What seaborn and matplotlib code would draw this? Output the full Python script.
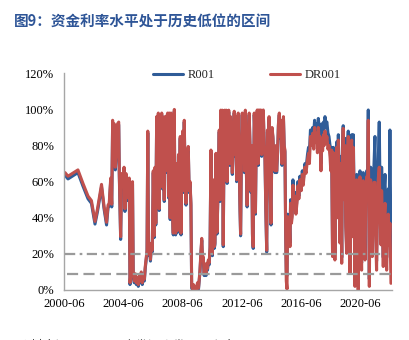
import matplotlib
matplotlib.use("Agg")
import matplotlib.pyplot as plt
import pandas as pd
import seaborn as sns
from matplotlib.lines import Line2D

# ---------------- data ----------------
years = [
    2000.57, 2000.77, 2001.44, 2001.78, 2002.12, 2002.35, 2002.59, 2002.76, 2003.03, 2003.20,
    2003.37, 2003.47, 2003.55, 2003.65, 2003.72, 2003.78, 2003.82, 2003.89, 2003.96, 2004.05,
    2004.11, 2004.19, 2004.23, 2004.32, 2004.39, 2004.46, 2004.55, 2004.61, 2004.68, 2004.75,
    2004.82, 2004.90, 2004.95, 2005.02, 2005.12, 2005.17, 2005.24, 2005.31, 2005.38, 2005.44,
    2005.51, 2005.58, 2005.65, 2005.71, 2005.78, 2005.85, 2005.92, 2005.98, 2006.05, 2006.10,
    2006.15, 2006.20, 2006.27, 2006.33, 2006.40, 2006.45, 2006.52, 2006.58, 2006.64, 2006.69,
    2006.75, 2006.80, 2006.86, 2006.92, 2006.97, 2007.04, 2007.09, 2007.14, 2007.20, 2007.26,
    2007.31, 2007.36, 2007.43, 2007.49, 2007.55, 2007.60, 2007.66, 2007.72, 2007.78, 2007.87,
    2007.94, 2007.98, 2008.03, 2008.10, 2008.17, 2008.22, 2008.27, 2008.34, 2008.39, 2008.44,
    2008.50, 2008.56, 2008.61, 2008.67, 2008.73, 2008.79, 2008.88, 2008.94, 2009.00, 2009.06,
    2009.11, 2009.18, 2009.23, 2009.30, 2009.37, 2009.43, 2009.50, 2009.57, 2009.62, 2009.67,
    2009.74, 2009.79, 2009.84, 2009.89, 2009.95, 2010.01, 2010.08, 2010.12, 2010.18, 2010.23,
    2010.29, 2010.35, 2010.41, 2010.46, 2010.51, 2010.57, 2010.63, 2010.68, 2010.75, 2010.82,
    2010.90, 2010.97, 2011.02, 2011.07, 2011.12, 2011.17, 2011.24, 2011.29, 2011.34, 2011.39,
    2011.44, 2011.50, 2011.56, 2011.61, 2011.67, 2011.73, 2011.79, 2011.85, 2011.92, 2011.98,
    2012.03, 2012.08, 2012.14, 2012.20, 2012.25, 2012.31, 2012.37, 2012.41, 2012.47, 2012.52,
    2012.57, 2012.62, 2012.67, 2012.73, 2012.79, 2012.85, 2012.92, 2012.99, 2013.06, 2013.11,
    2013.16, 2013.21, 2013.26, 2013.33, 2013.38, 2013.41, 2013.47, 2013.53, 2013.60, 2013.65,
    2013.72, 2013.77, 2013.83, 2013.89, 2013.94, 2014.00, 2014.05, 2014.11, 2014.17, 2014.22,
    2014.28, 2014.33, 2014.39, 2014.46, 2014.53, 2014.59, 2014.66, 2014.73, 2014.80, 2014.84,
    2014.91, 2014.96, 2015.02, 2015.07, 2015.13, 2015.20, 2015.25, 2015.30, 2015.35, 2015.40,
    2015.45, 2015.49, 2015.54, 2015.58, 2015.64, 2015.69, 2015.74, 2015.78, 2015.84, 2015.89,
    2015.94, 2016.00, 2016.07, 2016.14, 2016.21, 2016.27, 2016.34, 2016.41, 2016.50, 2016.57,
    2016.63, 2016.75, 2016.82, 2016.92, 2016.99, 2017.05, 2017.12, 2017.19, 2017.27, 2017.34,
    2017.40, 2017.46, 2017.54, 2017.59, 2017.65, 2017.71, 2017.76, 2017.83, 2017.88, 2017.94,
    2018.00, 2018.04, 2018.10, 2018.17, 2018.23, 2018.30, 2018.37, 2018.44, 2018.49, 2018.55,
    2018.61, 2018.66, 2018.72, 2018.77, 2018.83, 2018.89, 2018.94, 2019.00, 2019.06, 2019.11,
    2019.16, 2019.23, 2019.28, 2019.33, 2019.39, 2019.45, 2019.50, 2019.56, 2019.62, 2019.67,
    2019.73, 2019.79, 2019.84, 2019.90, 2019.94, 2020.01, 2020.07, 2020.12, 2020.18, 2020.24,
    2020.29, 2020.34, 2020.41, 2020.46, 2020.51, 2020.57, 2020.63, 2020.68, 2020.74, 2020.80,
    2020.85, 2020.91, 2020.97, 2021.02, 2021.09, 2021.13, 2021.18, 2021.23, 2021.29, 2021.35,
    2021.40, 2021.47, 2021.52, 2021.58, 2021.64, 2021.69, 2021.76, 2021.82, 2021.88, 2021.92,
    2021.98, 2022.03, 2022.09, 2022.15, 2022.20, 2022.26, 2022.31, 2022.37, 2022.43, 2022.48,
    2022.55,
]

dr001 = [
    65, 63, 66.5, 59, 52, 49.5, 38, 45, 58.5, 46.5,
    37.5, 47, 48, 62, 47.5, 94, 72, 92, 68, 77.5,
    92, 93, 64.5, 29.5, 64.5, 60, 68, 45, 64.5, 58,
    51, 62, 4, 10, 60, 8, 5, 9, 4, 7,
    3, 8, 5, 10, 4, 8, 6, 13, 18, 22,
    88, 20, 25, 17, 26, 22, 66, 30, 68, 37,
    96, 50, 98, 45, 93, 58, 98, 57, 93, 50,
    96, 66, 96, 98, 52, 98, 40, 98, 55, 31.5,
    100, 45, 31.5, 70, 33, 75, 48, 85, 31.5, 70,
    88, 55, 94, 60, 48, 75, 79.5, 55, 60, 48,
    2, 0.5, 3, 0.5, 2, 0.5, 4, 1, 6, 11,
    22, 28.6, 17, 18.5, 9, 12, 9, 14.8, 12, 16.6,
    15, 24, 77.5, 22, 20, 61, 24, 26, 75.7, 32,
    60, 88.6, 50, 99.6, 70, 99.6, 25, 80, 99.6, 66,
    99.6, 60, 85, 99.6, 70, 96, 85, 65, 83, 99,
    75, 96, 61, 90, 98, 70, 45, 31, 80, 98,
    75, 96, 66, 99.6, 70, 47, 85, 98, 75, 55,
    80, 31, 24, 98, 85, 43, 88.6, 99.7, 70, 99.7,
    85, 99.7, 75, 88.6, 99.7, 80, 75.7, 45, 22, 88.6,
    70, 96, 61, 37, 90, 85, 70, 66, 80, 66,
    77.5, 92, 98, 85, 94, 70, 85, 96, 80, 77.5,
    31.5, 5, 0.5, 40.6, 29.5, 35, 24, 48, 37, 40.6,
    58, 45, 52, 42, 48, 57.7, 50.5, 61, 55, 64,
    58, 68, 64.6, 72, 75.7, 70, 85, 80, 86.8, 78,
    90, 82, 86.8, 76, 90, 83, 85, 66, 84, 77,
    86, 80, 88, 82, 85, 78, 80, 74, 66, 77.5,
    18.5, 76, 60, 16.6, 70, 79, 40, 83, 55, 26,
    70, 14.8, 75, 89.5, 50, 80, 35, 20.3, 76, 85,
    60, 9.2, 75, 83, 29.5, 79, 45, 2, 40, 61,
    20, 0, 50, 62.7, 30, 11, 55, 60.5, 35, 16.6,
    50, 62.7, 58, 94, 2, 40, 61, 25, 18.5, 50,
    59.6, 59.6, 30, 11, 45, 61, 68, 40, 25, 55,
    35, 13, 40, 48, 25, 11, 30, 42, 25, 37,
    3.7,
]

r001 = [
    63.5, 61.5, 65, 57.5, 50.5, 48, 36.5, 43.5, 57, 45,
    36, 45.5, 46.5, 60.5, 46, 92.5, 70.5, 90.5, 66.5, 76,
    90.5, 91.5, 63, 28, 63, 58.5, 66.5, 43.5, 63, 56.5,
    49.5, 60.5, 3, 9, 58.5, 7, 4, 8, 3, 6,
    2, 7, 4, 9, 3, 7, 5, 12, 17, 21,
    87, 19, 24, 16, 25, 21, 65, 29, 67, 36,
    95, 49, 97, 44, 92, 57, 97, 56, 92, 49,
    95, 65, 95, 97, 51, 97, 39, 97, 54, 30.5,
    99, 44, 30.5, 69, 32, 74, 47, 84, 30.5, 69,
    87, 54, 93, 59, 47, 74, 78.5, 54, 59, 47,
    1, 0, 2, 0, 1, 0, 3, 0.5, 5, 10,
    21, 27.5, 16, 17.5, 8, 11, 8, 14, 11, 15.6,
    14, 23, 76.5, 21, 19, 60, 23, 25, 74.7, 31,
    59, 87.6, 49, 98.6, 69, 98.6, 24, 79, 98.6, 65,
    98.6, 59, 84, 98.6, 69, 95, 84, 64, 82, 98,
    74, 95, 60, 89, 97, 69, 44, 30, 79, 97,
    74, 95, 65, 98.6, 69, 46, 84, 97, 74, 54,
    79, 30, 23, 97, 84, 42, 87.6, 98.7, 69, 98.7,
    84, 98.7, 74, 87.6, 98.7, 79, 74.7, 44, 21, 87.6,
    69, 95, 60, 36, 89, 84, 69, 65, 79, 65,
    76.5, 91, 97, 84, 93, 69, 84, 95, 79, 76.5,
    30.5, 10, 8, 42, 31, 37, 26, 50, 39, 43,
    61, 47, 54, 44, 50, 60, 52, 63, 57, 66,
    60, 70, 67, 75, 79, 76, 88.6, 86, 90, 87,
    94, 88, 92, 86, 95, 90, 91.4, 70, 92, 88.6,
    93, 89, 96, 92, 93, 87, 85, 80, 70, 79,
    22, 79, 64, 20, 74, 82, 44, 86, 58, 30,
    74, 18, 79, 91, 54, 84, 38, 24, 80, 88,
    64, 12, 80, 86, 34, 86, 50, 6, 50, 64,
    26, 4, 58, 66, 36, 15, 62, 65, 40, 20,
    56, 66, 63, 99.7, 6, 48, 68, 32, 24, 60,
    68, 85, 40, 16, 55, 70, 93, 50, 32, 68,
    45, 18, 55, 64, 35, 18, 45, 56, 40, 88.6,
    20,
]

series_names = ["R001", "DR001"]
ref_levels = [20, 9]              # dash-dot and dashed reference lines (%)
x_tick_years = [2000.5, 2004.5, 2008.5, 2012.5, 2016.5, 2020.5]
x_tick_labels = ["2000-06", "2004-06", "2008-06", "2012-06", "2016-06", "2020-06"]
y_ticks = [0, 20, 40, 60, 80, 100, 120]
y_tick_labels = ["0%", "20%", "40%", "60%", "80%", "100%", "120%"]

title = "图9：资金利率水平处于历史低位的区间"
source = "资料来源：Wind，广发证券发展研究中心"

BLUE = "#2F5C98"
RED = "#C0504D"
GREY = "#9A9A9A"
AXIS = "#A6A6A6"

# ---------------- figure ----------------
sns.set_style("white")
plt.rcParams["font.family"] = ["Liberation Serif", "Noto Sans CJK SC"]

fig = plt.figure(figsize=(4.1, 3.4), dpi=100)
ax = fig.add_axes([64 / 410, 1 - 290 / 340, 328 / 410, 216.7 / 340])

n = len(years)
df = pd.DataFrame({
    "year": years + years,
    "value": r001 + dr001,
    "series": ["R001"] * n + ["DR001"] * n,
})
sns.lineplot(data=df, x="year", y="value", hue="series", hue_order=series_names,
             palette={"R001": BLUE, "DR001": RED}, estimator=None, sort=False,
             linewidth=2.2, legend=False, ax=ax)

ax.hlines(ref_levels[0], years[0], years[-1], colors=GREY, linewidth=1.6,
          linestyles=[(0, (4.6, 2.0, 1.2, 2.0))], zorder=5)
ax.hlines(ref_levels[1], years[0] + 0.1, years[-1], colors=GREY, linewidth=1.6,
          linestyles=[(0, (5.0, 2.4))], zorder=5)

ax.set_xlim(2000.5, 2022.62)
ax.set_ylim(0, 120)
ax.set_xticks(x_tick_years)
ax.set_xticklabels(x_tick_labels)
ax.set_yticks(y_ticks)
ax.set_yticklabels(y_tick_labels)
ax.set_xlabel("")
ax.set_ylabel("")

for s in ["top", "right"]:
    ax.spines[s].set_visible(False)
for s in ["left", "bottom"]:
    ax.spines[s].set_color(AXIS)
    ax.spines[s].set_linewidth(1.0)
ax.tick_params(axis="both", direction="in", length=3.5, width=0.9, color=AXIS,
               labelsize=9, labelcolor="black")
ax.tick_params(axis="y", pad=7)
ax.tick_params(axis="x", pad=6)

handles = [Line2D([], [], color=BLUE, lw=2.2), Line2D([], [], color=RED, lw=2.2)]
ax.legend(handles, series_names, ncol=2, frameon=False, loc="center left",
          bbox_to_anchor=(153 / 410, 1 - 75 / 340), bbox_transform=fig.transFigure,
          borderpad=0, borderaxespad=0, handlelength=2.4, handletextpad=0.4,
          columnspacing=4.4, prop={"family": "Liberation Serif", "size": 9})

fig.text(14 / 410, 1 - 22 / 340, title, fontsize=10.5, fontweight="bold", color="#2E5597",
         family=["Noto Sans CJK SC", "DejaVu Sans"], ha="left", va="center")
# the source line is cut by the lower edge in the reference: only its top shows
fig.text(18 / 410, 1 - 350 / 340, source, fontsize=9, color="#333333",
         family=["Noto Sans CJK SC", "DejaVu Sans"], ha="left", va="baseline")

fig.savefig("out.png", dpi=100)
